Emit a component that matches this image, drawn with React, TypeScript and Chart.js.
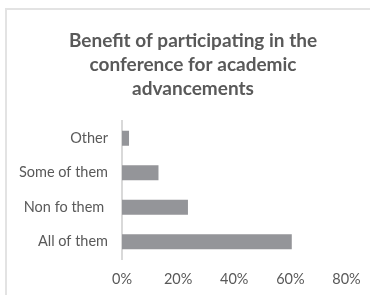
import React, { useEffect, useRef } from "react";
import { Chart, registerables } from "chart.js";

Chart.register(...registerables);

const titleLines = ["Benefit of participating in the", "conference for academic", "advancements"];
const categories = ["Other", "Some of them", "Non fo them ", "All of them"];
const values = [2.5, 13, 23.5, 60.5];
const xTicks = [0, 20, 40, 60, 80];

const titlePlugin = {
  id: "customTitle",
  afterDraw(chart: any) {
    const ctx = chart.ctx;
    ctx.save();
    ctx.fillStyle = "#595959";
    ctx.font = "bold 19px Lato";
    ctx.textAlign = "center";
    ctx.textBaseline = "alphabetic";
    titleLines.forEach((line, i) => {
      ctx.fillText(line, 193, 46.5 + i * 24.3);
    });
    ctx.restore();
  },
};

export default function App() {
  const ref = useRef<HTMLCanvasElement | null>(null);
  useEffect(() => {
    if (!ref.current) return;
    const chart = new Chart(ref.current, {
      type: "bar",
      data: {
        labels: categories,
        datasets: [
          {
            data: values,
            backgroundColor: "#949599",
            borderWidth: 0,
            barPercentage: 0.435,
            categoryPercentage: 1,
          },
        ],
      },
      plugins: [titlePlugin],
      options: {
        indexAxis: "y",
        animation: false,
        responsive: false,
        maintainAspectRatio: false,
        layout: { padding: { left: 0, right: 23.5, top: 121, bottom: 0 } },
        plugins: {
          legend: { display: false },
          tooltip: { enabled: false },
          title: { display: false },
        },
        scales: {
          x: {
            min: xTicks[0],
            max: xTicks[xTicks.length - 1],
            afterBuildTicks: (s: any) => {
              s.ticks = xTicks.map((v) => ({ value: v }));
            },
            afterFit: (s: any) => {
              s.height = 36;
              s.paddingLeft = 0;
              s.paddingRight = 0;
            },
            grid: { display: false, drawTicks: false },
            border: { display: false },
            ticks: {
              color: "#595959",
              font: { family: "Lato", size: 14.5 },
              padding: 12,
              maxRotation: 0,
              callback: (v: any) => v + "%",
            },
          },
          y: {
            afterFit: (s: any) => {
              s.width = 122;
              s.paddingTop = 0;
              s.paddingBottom = 0;
            },
            grid: { display: false, drawTicks: false },
            border: { display: true, color: "#d9d9d9", width: 2 },
            ticks: {
              color: "#595959",
              font: { family: "Lato", size: 14.5 },
              padding: 14,
            },
          },
        },
      },
    });
    return () => chart.destroy();
  }, []);
  return (
    <div style={{ position: "fixed", left: 0, top: 0, width: 370, height: 295, overflow: "hidden", background: "#fff" }}>
      <div
        style={{
          position: "absolute",
          left: 5,
          top: 8,
          width: 400,
          height: 400,
          borderLeft: "2px solid #e3e3e3",
          borderTop: "2px solid #e3e3e3",
        }}
      />
      <canvas ref={ref} width={370} height={295} style={{ position: "absolute", left: 0, top: 0 }} />
    </div>
  );
}
